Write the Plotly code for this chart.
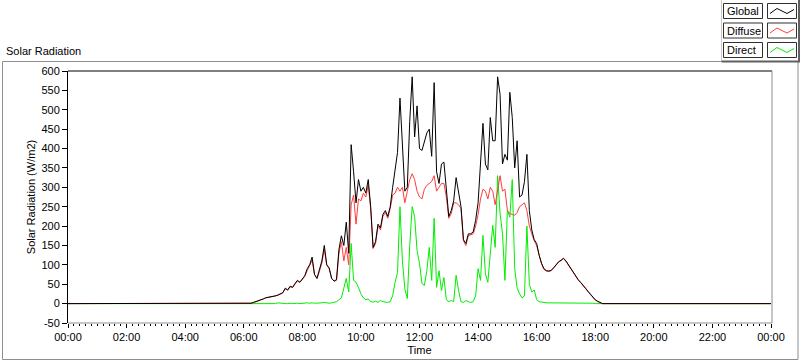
import plotly.graph_objects as go
import pandas as pd

# ---------------- data (5-minute samples from 06:00 to 18:30) ----------------
series_start = "2000-01-01 06:00"
day_start = "2000-01-01 00:00"
day_end = "2000-01-02 00:00"
night_value = 0

global_rad = [
    0, 0, 0, 1, 3, 5, 7, 10, 12, 15,
    16, 18, 18, 20, 22, 25, 28, 40, 35, 45,
    42, 52, 60, 55, 65, 72, 90, 100, 120, 75,
    65, 85, 110, 150, 100, 92, 65, 58, 62, 140,
    175, 150, 210, 130, 410, 340, 260, 320, 290, 300,
    285, 320, 250, 145, 160, 205, 195, 230, 240, 225,
    250, 300, 340, 390, 530, 420, 290, 300, 470, 585,
    430, 510, 400, 395, 420, 440, 450, 380, 570, 340,
    310, 360, 365, 290, 225, 240, 265, 325, 290, 250,
    165, 155, 180, 180, 185, 215, 260, 380, 465, 360,
    345, 480, 420, 420, 585, 540, 360, 385, 370, 545,
    480, 350, 420, 275, 280, 315, 385, 240, 190, 165,
    155, 125, 104, 90, 85, 84, 86, 93, 102, 108,
    112, 117, 110, 100, 90, 82, 72, 62, 55, 46,
    40, 32, 25, 18, 10, 6, 2, 0, 0, 0,
    0,
]

diffuse_rad = [
    0, 0, 0, 1, 3, 5, 7, 10, 12, 15,
    16, 18, 18, 20, 22, 25, 28, 38, 35, 43,
    42, 50, 58, 55, 63, 70, 85, 98, 112, 75,
    65, 83, 105, 140, 100, 90, 65, 58, 60, 130,
    160, 110, 145, 100, 255, 280, 205, 270, 265, 285,
    275, 305, 245, 142, 155, 200, 190, 225, 235, 220,
    245, 280, 285, 300, 290, 300, 260, 290, 320, 335,
    320, 290, 275, 270, 295, 305, 310, 315, 330, 290,
    300, 310, 310, 275, 220, 232, 260, 260, 255, 245,
    162, 150, 175, 177, 180, 200, 230, 270, 295, 290,
    270, 300, 290, 255, 290, 330, 290, 295, 240, 232,
    230, 228, 235, 250, 255, 260, 240, 200, 180, 162,
    150, 122, 102, 88, 84, 83, 85, 92, 101, 107,
    111, 116, 109, 99, 89, 81, 71, 61, 54, 45,
    39, 31, 24, 17, 9, 5, 2, 0, 0, 0,
    0,
]

direct_rad = [
    0, 0, 0, 0, 0, 0, 0, 0, 0, 0,
    0, 0, 0, 0, 2, 1, 0, 0, 0, 1,
    0, 1, 1, 0, 1, 2, 2, 1, 2, 1,
    1, 2, 2, 3, 2, 1, 2, 3, 5, 10,
    15, 40, 65, 30, 155, 60, 55, 42, 25, 15,
    10, 12, 5, 4, 6, 3, 8, 5, 4, 3,
    5, 20, 55, 80, 250, 110, 38, 13, 150, 250,
    225, 137, 104, 52, 47, 85, 145, 60, 220, 42,
    85, 34, 67, 10, 5, 8, 5, 73, 34, 5,
    3, 8, 5, 3, 5, 20, 90, 60, 176, 77,
    55, 120, 202, 145, 330, 233, 181, 60, 241, 223,
    320, 90, 40, 25, 15, 20, 200, 50, 30, 35,
    10, 5, 3, 3, 2, 2, 2, 2, 1, 1,
    1, 1, 1, 1, 1, 1, 1, 1, 1, 1,
    1, 1, 1, 1, 0, 0, 0, 0, 0, 0,
    0,
]

y_ticks = list(range(-50, 601, 50))

# ---------------- build figure ----------------
times = list(pd.date_range(series_start, periods=len(global_rad), freq="5min"))
x_all = [pd.Timestamp(day_start)] + times + [pd.Timestamp(day_end)]


def full(vals):
    return [night_value] + list(vals) + [night_value]


W, H = 800, 361
L, R, T, B = 68, 771, 71, 323
FONT = "Liberation Sans, Arial, sans-serif"

fig = go.Figure()
fig.add_trace(go.Scatter(x=x_all, y=full(direct_rad), mode="lines", name="Direct",
                         line=dict(color="#00ee00", width=1), showlegend=False))
fig.add_trace(go.Scatter(x=x_all, y=full(diffuse_rad), mode="lines", name="Diffuse",
                         line=dict(color="#ff3c3c", width=1), showlegend=False))
fig.add_trace(go.Scatter(x=x_all, y=full(global_rad), mode="lines", name="Global",
                         line=dict(color="#000000", width=1), showlegend=False))


def px(x):
    return (x - L) / (R - L)


def py(y):
    return (B - y) / (B - T)


shapes = []


def line(x0, y0, x1, y1, color, width=1):
    shapes.append(dict(type="line", xref="paper", yref="paper",
                       x0=px(x0), y0=py(y0), x1=px(x1), y1=py(y1),
                       line=dict(color=color, width=width), layer="above"))


def rect(x0, y0, x1, y1, color, fill="white", width=1):
    shapes.append(dict(type="rect", xref="paper", yref="paper",
                       x0=px(x0), y0=py(y0), x1=px(x1), y1=py(y1),
                       line=dict(color=color, width=width), fillcolor=fill, layer="above"))


FRAME = "#8e8e8e"
# outer frame
line(2.5, 61.5, 722, 61.5, FRAME)
line(2.5, 61.5, 2.5, 359.5, FRAME)
line(2.5, 359.5, 798, 359.5, FRAME)
line(798, 62, 798, 359.5, FRAME)
# plot area frame
line(L, T, R + 1, T, "#000000")
line(R + 1, T, R + 1, B, FRAME)
line(L, B, R + 1, B, FRAME)

# legend panel
rect(721.5, -2, 801, 61.5, "#c8c8c8", fill="white")
line(721.5, 61.5, 800, 61.5, "#606060", 2)
line(799, 0, 799, 62, "#606060", 2)

legend_names = ["Global", "Diffuse", "Direct"]
legend_colors = ["#000000", "#ff3c3c", "#00ee00"]
annotations = []
for k, (nm, col) in enumerate(zip(legend_names, legend_colors)):
    oy = 3.5 + 19.5 * k
    rect(723.5, oy, 762.5, oy + 15, "#303030")
    rect(767.5, oy, 796.5, oy + 15, "#303030")
    pts = [(770, oy + 10), (777, oy + 5), (787, oy + 10), (794, oy + 6)]
    path = "M " + " L ".join(f"{px(a):.5f},{py(b):.5f}" for a, b in pts)
    shapes.append(dict(type="path", xref="paper", yref="paper", path=path,
                       line=dict(color=col, width=1), layer="above"))
    annotations.append(dict(text=nm, xref="paper", yref="paper", x=px(725), y=py(oy + 7.8),
                            xanchor="left", yanchor="middle", showarrow=False,
                            font=dict(family=FONT, size=11, color="black")))

annotations.append(dict(text="Solar Radiation", xref="paper", yref="paper", x=px(4), y=py(51),
                        xanchor="left", yanchor="middle", showarrow=False,
                        font=dict(family=FONT, size=11, color="black")))

fig.update_layout(
    width=W, height=H,
    margin=dict(l=L, r=W - R, t=T, b=H - B, pad=0, autoexpand=False),
    paper_bgcolor="white", plot_bgcolor="white",
    font=dict(family=FONT, size=11, color="black"),
    shapes=shapes, annotations=annotations,
    showlegend=False,
    xaxis=dict(
        type="date", range=[day_start, day_end], automargin=False,
        tick0=day_start, dtick=2 * 3600 * 1000, tickformat="%H:%M",
        ticks="outside", ticklen=4, tickcolor="black", tickwidth=1,
        minor=dict(dtick=12 * 60 * 1000, ticks="outside", ticklen=2, tickcolor="black", showgrid=False),
        showgrid=False, zeroline=False, showline=False,
        tickfont=dict(family=FONT, size=11, color="black"),
        title=dict(text="Time", font=dict(family=FONT, size=11, color="black"), standoff=4),
    ),
    yaxis=dict(
        range=[-50, 600], tickvals=y_ticks, ticktext=[str(v) for v in y_ticks],
        automargin=False,
        ticks="outside", ticklen=5, tickcolor="black", tickwidth=1,
        showgrid=False, zeroline=False, showline=True, linecolor="black", linewidth=1,
        tickfont=dict(family=FONT, size=11, color="black"),
        title=dict(text="Solar Radiation (W/m2)", font=dict(family=FONT, size=11, color="black"), standoff=3),
    ),
)

fig.write_html(
    "out.html",
    config={"displayModeBar": False},
    post_script="document.body.style.margin='0px';document.body.style.padding='0px';document.body.style.overflow='hidden';",
)
